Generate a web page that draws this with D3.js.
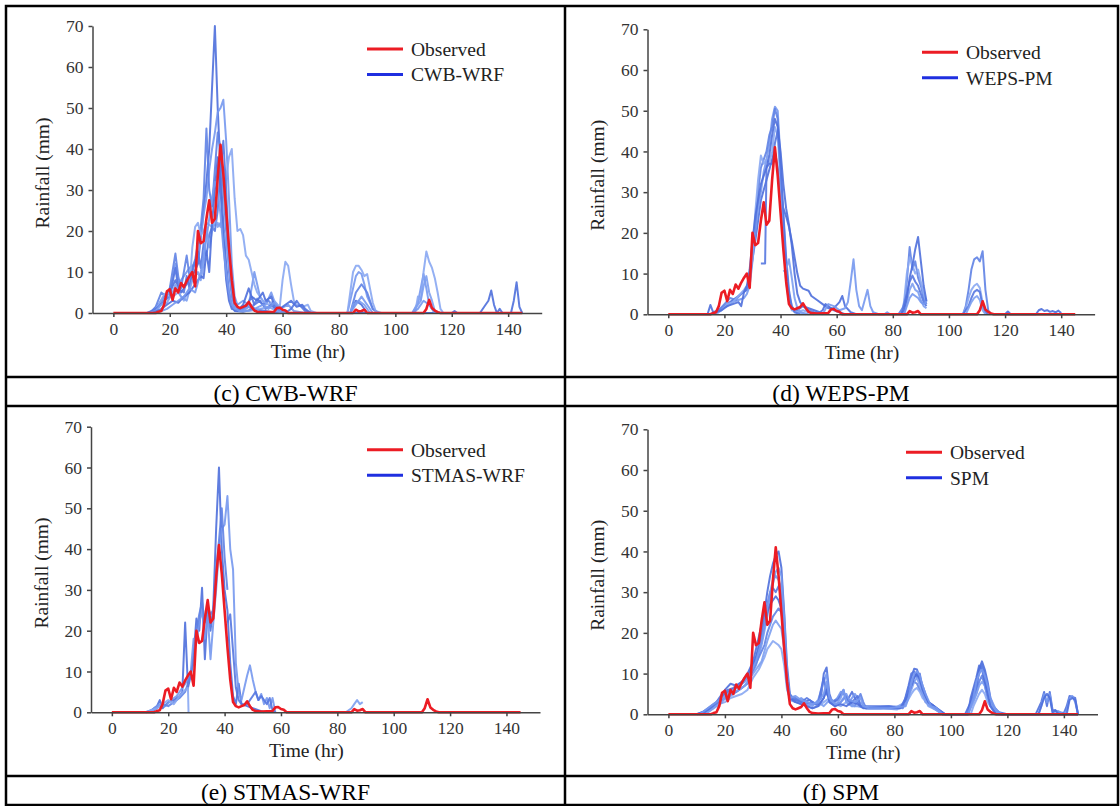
<!DOCTYPE html>
<html>
<head>
<meta charset="utf-8">
<script src="https://cdn.jsdelivr.net/npm/d3@7"></script>
<style>
body { margin: 0; background: #fff; }
svg { display: block; font-family: "Liberation Serif", "Times New Roman", serif; }
</style>
</head>
<body>
<svg id="chart" width="1120" height="806"></svg>
<script>
// hourly rainfall, [time (hr), rainfall (mm)]
var observed = [[0,0],[15,0],[16,0.3],[17,0.5],[18,2],[19,5.3],[20,5.8],[21,3.2],[22,6],[23,5],[24,7.3],[25,6.3],[26,7.8],[27,9],[28,10],[29,6.5],[30,20],[31,17],[32,17.5],[33,23],[34,27.5],[35,22],[36,23],[37,33],[38,41],[39,34],[40,25],[41,16],[42,8],[43,2.5],[44,1.5],[45,1.2],[46,1.5],[47,1.8],[48,2.7],[49,1.5],[50,0.6],[51,0.3],[53,0.2],[57,0.3],[58,1.2],[59,1.3],[60,0.8],[61,0.6],[62,0],[85,0],[86,0.8],[87,0.4],[88,0.5],[89,0.8],[90,0],[110,0],[111,1],[112,3.2],[113,1.2],[114,0.6],[115,0.2],[116,0],[145,0]];

var cwbWrf = [
  [[13,0],[16,2],[18,4],[20,5],[22,8],[24,5],[26,7],[28,9],[30,12],[32,25],[33,32],[34,40],[35,55],[36,70],[37,50],[38,35],[39,22],[40,12],[41,5],[42,2],[43,0.5],[46,0.3],[50,1],[54,0.5],[58,0],[84,0],[86,3],[88,2],[90,0],[145,0]],
  [[12,0],[15,1],[17,3],[19,4],[21,8],[22,12],[23,7],[25,9],[27,11],[29,12],[30,14],[31,18],[32,24],[33,28],[34,35],[35,40],[36,44],[37,49],[38,50],[39,52],[40,42],[41,28],[42,12],[43,4],[44,2],[46,3],[48,2],[50,10],[51,7],[52,4],[54,2],[56,5],[57,3],[59,1],[62,2],[64,0.5],[68,0],[83,0],[85,6],[86,9],[87,10],[88,9.5],[89,7],[90,4],[92,1],[94,0],[106,0],[108,2.5],[110,9.5],[111,6],[112,2],[114,0],[145,0]],
  [[13,0],[15,1.5],[17,5],[19,4],[20,6],[22,14.5],[23,9],[24,6],[26,14],[27,9],[29,13],[31,21],[32,28],[33,45],[34,30],[35,26],[36,35],[37,44],[38,40],[39,30],[40,20],[41,10],[42,4],[43,1.5],[45,1],[47,2],[49,1],[51,3.5],[53,2],[55,3],[57,1.5],[59,0.5],[61,0],[84,0],[86,5],[88,7],[90,5],[92,1],[94,0],[145,0]],
  [[14,0],[16,2],[18,4.5],[19,5],[21,4],[23,5],[25,3],[27,6],[28,16],[29,21],[30,22],[31,19],[32,20],[33,22],[35,21],[37,22],[38,21],[39,25],[40,33],[41,38],[42,40],[43,28],[44,20],[45,20.5],[46,19],[47,14],[48,13],[49,10],[50,7],[51,5],[53,3],[55,2],[57,3],[59,1.5],[60,8],[61,12.5],[62,11.5],[63,7],[64,3],[65,2],[67,1.5],[69,2],[70,0.5],[72,0],[83,0],[84,5],[85,10],[86,11.5],[87,11.5],[88,10.5],[89,9],[90,9.5],[91,6],[92,2.5],[93,0.5],[95,0],[107,0],[108,4],[109,3],[110,10],[111,15],[112,12.5],[113,11],[114,8.5],[115,5],[116,1],[117,0],[145,0]],
  [[12,0],[14,0.5],[16,1.5],[18,3],[20,4],[22,11],[23,6],[25,5],[26,9],[27,6],[28,10],[30,15],[31,11],[32,17],[33,14],[34,19],[35,21],[36,20],[37,25],[38,35],[39,42],[40,30],[41,15],[42,6],[43,2],[45,0.5],[47,1.5],[49,4],[50,2],[52,3],[54,1],[56,2],[58,0.5],[60,0],[61,0],[63,1],[65,3],[66,2],[68,0.5],[70,0],[145,0]],
  [[13,0],[15,0.5],[17,2],[19,2.5],[21,5],[22,7],[24,4],[26,3],[28,8],[30,10],[31,8],[32,12],[33,21],[34,16],[35,20],[36,23],[37,21],[38,22],[39,20],[40,17],[41,12],[42,6],[43,2],[44,0.5],[48,0.5],[52,1],[55,1.5],[58,0.5],[60,0],[84,0],[85,2],[87,3],[89,2],[91,0],[106,0],[107,1],[109,3],[110,6.5],[111,9],[112,5],[113,3],[114,0.5],[116,0],[145,0]],
  [[14,0],[17,1],[19,2],[21,3],[23,2.5],[25,4],[27,5],[29,7],[31,9],[32,8.5],[33,15],[34,10],[35,22],[36,30],[37,38],[38,30],[39,18],[40,8],[41,3],[42,1],[44,0.5],[46,2],[48,6],[49,4],[51,3],[53,5],[54,3],[56,4],[57,2],[59,1],[61,2],[63,3],[65,1.5],[67,2],[68,1],[70,0],[120,0],[121,0.5],[122,0],[130,0],[132,2],[133,3],[134,5.5],[135,2],[136,0],[137,1],[138,0],[141,0],[142,3],[143,7.5],[144,1.5],[145,0]],
  [[15,0],[17,0.5],[19,1],[21,2],[23,3],[25,4],[27,6],[29,5],[31,10],[33,18],[35,28],[36,32],[37,30],[38,24],[39,16],[40,10],[41,5],[42,2],[43,1],[45,0.5],[47,1],[49,2],[50,1],[53,2],[55,1],[57,2.5],[59,1],[62,0],[84,0],[86,2],[88,4],[90,2],[92,0],[106,0],[108,1],[110,3],[112,2],[114,0],[145,0]]
];

var wepsPm = [
  [[14,0],[15,2.3],[16,0.5],[18,1],[20,2],[22,3],[24,4],[26,5],[28,6],[29,9],[31,18],[33,28],[35,33],[37,38],[38,40],[39,36],[40,30],[41,26],[42,24],[43,21.5],[44,18],[45,14],[46,10],[47,7],[48,6.3],[50,5.8],[51,4.5],[53,3.5],[55,2.5],[57,1.5],[59,1.5],[61,3],[62,4.5],[63,2],[65,0.5],[67,0]],
  [[15,0],[17,0.5],[19,1.5],[21,2],[23,3],[25,3.5],[27,4],[28,5],[29,7],[30,13],[31,20],[32,26],[33,30],[34,35],[35,38],[36,42],[37,48],[38,51],[39,50],[40,38],[41,24],[42,12],[43,5],[44,2],[45,1],[47,0.5],[50,0]],
  [[16,0],[18,1],[20,2.5],[22,4],[24,3.5],[26,5],[28,6.5],[29,9],[30,15],[31,22],[32,30],[33,36],[34,38],[35,40],[36,44],[37,46],[38,50.5],[39,48],[40,35],[41,20],[42,10],[43,4],[44,1.5],[46,1],[48,2],[50,1],[52,0.5],[55,0]],
  [[17,0],[19,1],[21,2.5],[23,3],[25,4.5],[27,6],[29,8],[30,14],[31,25],[32,33],[33,39],[34,37],[35,38],[36,37],[37,40],[38,46],[39,44],[40,32],[41,18],[42,8],[43,3],[44,1],[46,0.5],[48,1],[50,0.5],[52,0]],
  [[33,12.5],[34.5,12.5],[35,36],[36,37],[37,37],[38,42],[39,45],[40,36],[41,25],[42,14],[43,6],[44,2],[45,0.5],[47,0]],
  [[41,10.5],[42,11],[43,13.5],[44,9],[45,4],[46,1.5],[47,0.5],[49,0]],
  [[15,0],[17,0.5],[19,1],[21,2],[23,2.5],[25,3],[26,2],[27,5.5],[28,7],[29,11],[30,18],[31,24],[32,28],[33,32],[34,34],[35,36],[36,39],[37,44],[38,48],[39,46],[40,40],[41,32],[42,26],[43,22],[44,17],[45,10],[46,5],[47,3],[48,2],[50,1.5],[52,1],[54,0.5],[55,1],[56,2.5],[57,2],[59,1],[61,0.5],[63,0]],
  [[55,0],[57,2.5],[59,2],[61,1],[63,1.5],[64,3],[65,8],[66,13.5],[67,6],[68,2],[69,1],[70,3.5],[71,6],[72,2],[73,0.5],[75,0],[77,0],[78,0.5],[79,0]],
  [[82,0],[84,2],[85,8],[86,16.5],[87,11],[88,13],[89,9],[90,7],[91,4],[92,2.5]],
  [[83,0],[84,3],[85,10],[86,14],[87,12],[88,10],[89,11],[90,8],[91,5],[92,3]],
  [[83,0],[85,5],[86,8],[87,9.5],[88,8],[89,7],[90,5],[91,3],[92,2]],
  [[84,0],[85,3],[86,6],[87,7.5],[88,6],[89,5.5],[90,3.5],[91,2],[92,1.5]],
  [[83,0],[84,1],[85,4],[86,9],[87,12],[88,16],[89,19],[90,13],[91,7],[92,3.2]],
  [[84,0],[85,2],[86,4],[87,5],[88,4.5],[89,4],[90,3],[91,2.5],[92,3]],
  [[105,0],[106,2],[107,6],[108,11],[109,13.5],[110,14],[111,13],[112,15.5],[113,6],[114,1],[115,0]],
  [[105,0],[106,1.5],[107,4],[108,6],[109,7],[110,7.5],[111,6.5],[112,3],[113,1],[114,0]],
  [[105,0],[107,2],[108,4],[109,5.5],[110,6],[111,5.5],[112,2],[113,0.5],[114,0]],
  [[106,0],[107,1.5],[108,3],[109,4],[110,4.5],[111,3.5],[112,1],[113,0]],
  [[120,0],[121,0.7],[122,0],[131,0],[132,1],[133,1.3],[134,0.8],[135,1],[136,0.6],[137,0.8],[138,0.5],[139,0.9],[140,0.3]]
];

var stmasWrf = [
  [[12,0],[14,0.5],[16,1.5],[17,3],[18,1],[20,2.5],[22,3],[24,4],[25,5],[26,22],[27,6],[28,9],[29,14],[30,23],[31,20],[32,30.5],[33,13],[34,25],[35,20],[36,26],[37,45],[38,60],[39,40],[40,30],[41,25],[42,12],[43,4],[44,2],[45,7],[46,2],[48,1.5],[50,1],[52,0.5],[54,0]],
  [[13,0],[15,1],[17,2],[19,1.5],[21,3],[23,4],[25,6],[27,8],[28,10],[29,18],[30,17],[31,22],[32,25],[33,18],[34,24],[35,13],[36,22],[37,30],[38,40],[39,45],[40,46],[41,53],[42,40],[43,35],[44,12],[45,5],[46,3],[47,6],[48,9],[49,11.5],[50,8],[51,5],[52,3],[53,4.5],[54,2],[55,3.5],[56,1],[57,3.5],[58,0]],
  [[14,0],[16,1],[18,2],[20,1.5],[22,2.5],[24,3.5],[26,5],[27,7],[29,12],[30,20],[31,24],[32,27],[33,22],[34,26],[35,24],[36,25],[37,35],[38,42],[39,50],[40,38],[41,30]],
  [[12,0],[14,0.5],[16,1],[18,2],[20,3],[22,2],[24,4],[26,5.5],[27,6],[27.2,0]],
  [[41,22],[42,24],[43,15],[44,6],[45,3],[46,2],[48,2],[50,4],[51,5],[52,3],[53,4],[55,2],[56,3.5],[57,0.5],[58,0]],
  [[83,0],[85,1],[86,2],[87,3],[88,2],[89,2.5]]
];

var spm = [
  [[10,0],[12,0.5],[14,1],[16,2],[18,3],[20,6],[22,7.5],[24,7],[26,8],[28,10],[30,13],[32,19],[34,25],[35,30],[36,34],[37,37],[38,39],[39,40],[40,36],[41,25],[42,12],[43,5],[44,4],[46,3.5],[48,3],[50,3.5],[52,2.5],[54,4],[55,10],[56,11.5],[57,5],[58,3],[60,4],[62,6],[63,3],[65,5.5],[66,4],[68,2],[70,2],[74,2],[78,2],[82,1.5],[84,4],[86,9],[87,11.2],[88,11],[89,9],[90,7],[92,3],[94,2],[96,1],[98,0],[105,0],[107,3],[109,8],[110,11],[111,13],[112,11],[113,8],[114,4],[115,2],[117,0.5],[120,0],[130,0],[132,3],[133,5.5],[134,2],[135,5.5],[136,1],[137,1],[138,0.5],[140,0.3],[141,2],[142,4.5],[143,4.3],[144,4],[145,0]],
  [[11,0],[13,0.8],[15,1.5],[17,2.5],[19,3.5],[21,4],[23,5],[25,6],[27,7],[29,9],[31,12],[33,17],[35,24],[36,28],[37,32],[38,35],[39,36],[40,34],[41,24],[42,10],[43,4],[45,3],[47,4],[49,3],[51,2],[53,3.5],[55,8],[56,10],[57,4],[59,3],[61,5.5],[62,5],[64,3],[66,5],[67,4],[68,2],[72,1.8],[76,1.8],[80,1.5],[83,2],[85,6],[86,8.5],[87,9],[88,10.5],[89,8],[90,6],[91,4],[93,2],[95,1],[97,0],[106,0],[108,4],[109,7],[110,10],[111,12],[112,9],[113,6],[114,3],[116,1],[118,0],[131,0],[132,2],[133,5],[134,3],[135,5],[136,0.5],[138,0.8],[140,0],[141,1],[142,4],[143,4.5],[144,3],[145,0]],
  [[12,0],[14,1],[16,2],[18,3],[20,4],[22,5],[24,5.5],[26,6.5],[28,7.5],[30,11],[32,14],[34,17],[35,20],[36,22],[37,24],[38,25],[39,26],[40,25],[41,20],[42,9],[43,4.5],[45,4],[47,3],[49,2.5],[51,3],[53,2],[55,4],[56,7],[57,3],[59,2],[61,3],[63,4.5],[64,3],[66,2],[68,5],[69,3],[70,1.5],[75,1.5],[80,1.8],[83,1.5],[85,5],[86,7],[87,8],[88,7.5],[89,6],[90,5],[91,3],[93,2],[96,0.5],[98,0],[106,0],[107,2],[109,5],[110,8],[111,9.5],[112,7],[113,4],[114,2],[116,0],[145,0]],
  [[12,0],[14,0.5],[16,1.5],[18,2.5],[20,3],[22,4],[24,4.5],[26,5],[28,6],[30,9],[32,11],[34,14],[35,16],[36,17],[37,18],[38,17.5],[39,17],[40,16],[41,12],[42,6],[43,4],[45,3.5],[47,2.5],[49,2],[51,1.5],[53,2],[55,3],[57,4],[59,2.5],[61,2],[63,3],[65,2],[67,3.5],[69,2],[71,1.5],[76,1.5],[81,1.2],[84,2.5],[86,5],[87,6],[88,6.5],[89,5.5],[90,4],[92,2.5],[94,1.5],[96,0.5],[98,0],[107,0],[108,2],[110,5],[111,6],[112,5],[113,3],[115,1],[117,0],[145,0]],
  [[11,0],[13,0.5],[15,1.5],[17,3],[19,5],[21,6],[23,6.5],[25,7.5],[27,8.5],[29,11],[31,14],[33,20],[35,27],[36,30],[37,31],[38,30],[39,31.5],[40,29],[41,20],[42,8],[43,4],[45,3.5],[47,3],[49,4],[51,3],[53,2.5],[54,6],[55,9],[56,5],[58,3],[60,3.5],[62,5.5],[63,4],[65,3],[67,4.5],[68,2],[70,1.5],[78,2],[83,1.8],[85,7],[86,10],[87,10.5],[88,9],[89,10],[90,6],[92,3],[94,2],[97,0],[106,0],[107,2.5],[109,6],[110,11],[111,12.5],[112,10],[113,6],[114,3],[116,0.5],[118,0],[145,0]],
  [[13,0],[15,1],[17,2],[19,3],[21,5],[23,5.5],[25,6],[27,7],[29,9],[31,11],[33,13],[35,18],[36,20],[37,22],[38,23],[39,22],[40,21],[41,16],[42,7],[43,3.5],[45,3],[47,2.5],[49,2],[51,2.5],[53,3],[55,2],[57,3.5],[59,2],[61,4],[62,6],[63,3],[65,2],[67,2],[70,1.5],[80,1.5],[84,3],[86,6],[87,8],[88,9],[89,7],[90,5],[92,2],[95,1],[97,0],[106,0],[108,3],[110,7],[111,8],[112,7],[113,4.5],[115,1.5],[117,0],[145,0]],
  [[10,0],[12,0.5],[14,1.5],[16,2.5],[18,3.5],[20,5],[22,6],[24,6.5],[26,7.5],[28,9],[30,12],[32,16],[34,22],[35,25],[36,27],[37,28],[38,29],[39,28],[40,26],[41,18],[42,8],[43,4],[45,3],[47,2.5],[49,2],[51,1.5],[53,2],[55,4],[56,6],[57,3],[59,2],[61,2.5],[63,2],[65,3],[67,2.5],[69,1.5],[75,1.5],[82,1.5],[84,3.5],[86,7],[87,9],[88,10],[89,8.5],[90,6],[92,3],[94,2],[96,1],[98,0],[106,0],[107,4],[109,9],[110,12],[111,11],[112,8],[113,5],[114,2],[116,0],[131,0],[133,4],[134,5],[135,4],[136,0.5],[137,1],[138,0],[141,0],[142,3.5],[143,4],[144,3.5],[145,0]],
  [[11,0],[13,1],[15,2],[17,3],[19,4],[21,5],[23,6],[25,7],[27,8],[29,10],[31,13],[33,18],[35,26],[36,30],[37,33],[38,34],[39,33],[40,31],[41,22],[42,9],[43,4],[45,4.5],[47,3.5],[49,3],[51,2.5],[53,3],[55,5],[56,8],[57,4],[59,2.5],[61,3],[63,5],[64,3.5],[66,3],[68,4],[69,2],[71,1.5],[78,1.5],[84,2],[85,4],[86,7.5],[87,10],[88,10.5],[89,9.5],[90,7],[91,5],[93,2],[95,1.5],[97,0],[106,0],[108,4],[109,8],[110,10],[111,11],[112,9.5],[113,7],[114,4],[116,1],[118,0],[145,0]]
];

var modelNames = ["CWB-WRF", "WEPS-PM", "STMAS-WRF", "SPM"];
var captions = ["(c) CWB-WRF", "(d) WEPS-PM", "(e) STMAS-WRF", "(f) SPM"];
var xTicks = [0, 20, 40, 60, 80, 100, 120, 140];
var yTicks = [0, 10, 20, 30, 40, 50, 60, 70];
var xDomain = [-7.4, 151.9];
var yDomain = [0, 70];

// layout
var models = [cwbWrf, wepsPm, stmasWrf, spm];
var frames = [
  {left: 92.5, top: 26,    bottom: 313,   right: 541.7, legendX: 367},
  {left: 647.5, top: 29.3, bottom: 314.3, right: 1094.6, legendX: 922},
  {left: 91,   top: 426.7, bottom: 712.3, right: 540,   legendX: 367},
  {left: 647.5, top: 429.3, bottom: 714.3, right: 1097.5, legendX: 906}
];
var cells = [
  {cx: 285.5, base: 401}, {cx: 841, base: 401},
  {cx: 285.5, base: 800}, {cx: 841, base: 800}
];
var blues = ["#4e6fdc", "#7698ee", "#5f82e4", "#88a7f2", "#5577e0", "#7c9ef0"];

var svg = d3.select("#chart");

// table
var grid = svg.append("g").attr("stroke", "#000").attr("stroke-width", 2.5);
grid.append("rect").attr("x", 6).attr("y", 6).attr("width", 1112).attr("height", 799).attr("fill", "none");
[[565, 6, 565, 805], [6, 377, 1118, 377], [6, 406, 1118, 406], [6, 776, 1118, 776]].forEach(function (l) {
  grid.append("line").attr("x1", l[0]).attr("y1", l[1]).attr("x2", l[2]).attr("y2", l[3]);
});

models.forEach(function (members, i) {
  var f = frames[i];
  var x = d3.scaleLinear().domain(xDomain).range([f.left, f.right]);
  var y = d3.scaleLinear().domain(yDomain).range([f.bottom, f.top]);
  var line = d3.line().x(function (d) { return x(d[0]); }).y(function (d) { return y(d[1]); });
  var g = svg.append("g");

  g.selectAll(".member").data(members).enter().append("path")
    .attr("d", line)
    .attr("fill", "none")
    .attr("stroke", function (d, j) { return blues[j % blues.length]; })
    .attr("stroke-opacity", 0.9)
    .attr("stroke-width", 2)
    .attr("stroke-linejoin", "round");

  g.append("path").datum(observed)
    .attr("d", line)
    .attr("fill", "none")
    .attr("stroke", "#ec1c24")
    .attr("stroke-width", 2.6)
    .attr("stroke-linejoin", "round");

  var xa = g.append("g").attr("transform", "translate(0," + f.bottom + ")")
    .call(d3.axisBottom(x).tickValues(xTicks).tickSize(4).tickSizeOuter(0).tickPadding(5.5));
  var ya = g.append("g").attr("transform", "translate(" + f.left + ",0)")
    .call(d3.axisLeft(y).tickValues(yTicks).tickSize(4).tickSizeOuter(0).tickPadding(5));
  [xa, ya].forEach(function (a) {
    a.selectAll("path, line").attr("stroke", "#444").attr("stroke-width", 1.5);
    a.selectAll("text").attr("fill", "#333").style("font-size", "17.5px")
      .style("font-family", "'Liberation Serif', 'Times New Roman', serif");
  });

  g.append("text")
    .attr("x", x(69)).attr("y", f.bottom + 45)
    .attr("text-anchor", "middle").attr("fill", "#222")
    .style("font-size", "19.5px").text("Time (hr)");
  g.append("text")
    .attr("transform", "translate(" + (f.left - 50) + "," + ((f.top + f.bottom) / 2 + 3.5) + ") rotate(-90)")
    .attr("text-anchor", "middle").attr("dy", "0.35em").attr("fill", "#222")
    .style("font-size", "19.5px").text("Rainfall (mm)");

  // legend
  var leg = [["Observed", "#ec1c24", 23], [modelNames[i], "#1f2fe0", 48.5]];
  leg.forEach(function (it) {
    g.append("line")
      .attr("x1", f.legendX).attr("x2", f.legendX + 36)
      .attr("y1", f.top + it[2]).attr("y2", f.top + it[2])
      .attr("stroke", it[1]).attr("stroke-width", 3);
    g.append("text")
      .attr("x", f.legendX + 44).attr("y", f.top + it[2]).attr("dy", "0.35em")
      .attr("fill", "#222").style("font-size", "19.5px").text(it[0]);
  });

  svg.append("text")
    .attr("x", cells[i].cx).attr("y", cells[i].base)
    .attr("text-anchor", "middle").attr("fill", "#000")
    .style("font-size", "23.5px").text(captions[i]);
});
</script>
</body>
</html>
